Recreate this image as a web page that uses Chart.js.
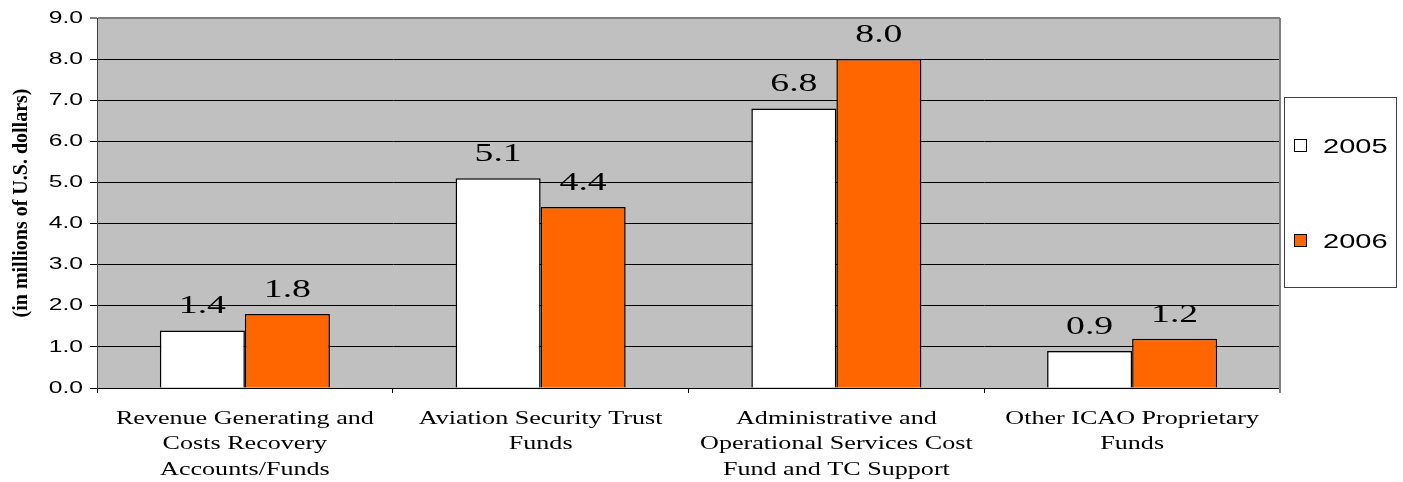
<!DOCTYPE html>
<html>
<head>
<meta charset="utf-8">
<script src="https://cdn.jsdelivr.net/npm/chart.js@4.4.1/dist/chart.umd.min.js"></script>
<style>
  html, body { margin: 0; padding: 0; background: #fff; }
  canvas { display: block; }
</style>
</head>
<body>
<canvas id="funds" width="1403" height="482"></canvas>
<script>
// data
const categories = [
  ['Revenue Generating and', 'Costs Recovery', 'Accounts/Funds'],
  ['Aviation Security Trust', 'Funds'],
  ['Administrative and', 'Operational Services Cost', 'Fund and TC Support'],
  ['Other ICAO Proprietary', 'Funds']
];
const seriesNames = ['2005', '2006'];
const values2005 = [1.4, 5.1, 6.8, 0.9];
const values2006 = [1.8, 4.4, 8.0, 1.2];
const yTicks = [0, 1, 2, 3, 4, 5, 6, 7, 8, 9];

const PLOT_BG = '#c0c0c0';
const BORDER_GRAY = '#808080';
const ORANGE = '#ff6600';

// the source picture is stretched sideways, so stretch horizontal text the same way
const STRETCH = 1.45;
function stretchText(ctx) {
  const fill = ctx.fillText.bind(ctx);
  ctx.fillText = function (text, x, y, maxWidth) {
    const m = ctx.getTransform();
    if (m.b !== 0 || m.c !== 0) {
      // rotated axis title: leave alone
      return maxWidth === undefined ? fill(text, x, y) : fill(text, x, y, maxWidth);
    }
    const p = m.transformPoint(new DOMPoint(x, y));
    ctx.save();
    ctx.setTransform(new DOMMatrix().translate(p.x, p.y).scale(STRETCH, 1).translate(-p.x, -p.y).multiply(m));
    if (maxWidth === undefined) fill(text, x, y); else fill(text, x, y, maxWidth);
    ctx.restore();
  };
}

const plotBackground = {
  id: 'plotBackground',
  beforeDraw(chart) {
    const { ctx, chartArea: a } = chart;
    ctx.save();
    ctx.fillStyle = PLOT_BG;
    ctx.fillRect(a.left, a.top, a.right - a.left, a.bottom - a.top);
    ctx.restore();
  },
  afterDraw(chart) {
    const { ctx, chartArea: a } = chart;
    ctx.save();
    ctx.strokeStyle = BORDER_GRAY;
    ctx.lineWidth = 2;
    ctx.beginPath();
    ctx.moveTo(a.right, a.top);
    ctx.lineTo(a.right, a.bottom + 5);
    ctx.stroke();
    ctx.restore();
  }
};

const valueLabels = {
  id: 'valueLabels',
  afterDatasetsDraw(chart) {
    const ctx = chart.ctx;
    ctx.save();
    ctx.font = '26px "Liberation Serif", "Times New Roman", serif';
    ctx.fillStyle = '#000';
    ctx.textAlign = 'center';
    ctx.textBaseline = 'alphabetic';
    chart.data.datasets.forEach((ds, i) => {
      chart.getDatasetMeta(i).data.forEach((bar, j) => {
        ctx.fillText(ds.data[j].toFixed(1), bar.x, bar.y - 17);
      });
    });
    ctx.restore();
  }
};

const boxLegend = {
  id: 'boxLegend',
  afterDraw(chart) {
    const { ctx, chartArea: a } = chart;
    const left = a.right + 4, top = 97, w = 112, h = 190;
    ctx.save();
    ctx.fillStyle = '#fff';
    ctx.fillRect(left, top, w, h);
    ctx.strokeStyle = '#404040';
    ctx.lineWidth = 1;
    ctx.strokeRect(left + 0.5, top + 0.5, w, h);
    ctx.font = '20px "Liberation Sans", Arial, sans-serif';
    ctx.textAlign = 'left';
    ctx.textBaseline = 'middle';
    chart.data.datasets.forEach((ds, i) => {
      const cy = top + 49 + i * 95;
      ctx.fillStyle = ds.backgroundColor;
      ctx.fillRect(left + 10.5, cy - 6.5, 12, 12);
      ctx.strokeStyle = '#000';
      ctx.strokeRect(left + 10.5, cy - 6.5, 12, 12);
      ctx.fillStyle = '#000';
      ctx.fillText(ds.label, left + 39, cy + 1);
    });
    ctx.restore();
  }
};

const canvas = document.getElementById('funds');
const ctx = canvas.getContext('2d');
stretchText(ctx);

new Chart(ctx, {
  type: 'bar',
  data: {
    labels: categories,
    datasets: [
      { label: seriesNames[0], data: values2005, backgroundColor: '#ffffff' },
      { label: seriesNames[1], data: values2006, backgroundColor: ORANGE }
    ]
  },
  options: {
    responsive: false,
    animation: false,
    layout: { padding: { top: 18, right: 123, left: 0, bottom: 0 } },
    datasets: {
      bar: {
        borderColor: '#000',
        borderWidth: 1.5,
        categoryPercentage: 0.575,
        barPercentage: 1.0
      }
    },
    plugins: {
      legend: { display: false },
      tooltip: { enabled: false }
    },
    scales: {
      x: {
        afterFit(scale) { scale.height = 94; },
        grid: {
          display: true,
          drawOnChartArea: false,
          tickLength: 5,
          color: '#000'
        },
        border: { color: '#000', width: 1 },
        ticks: {
          autoSkip: false,
          maxRotation: 0,
          minRotation: 0,
          padding: 13,
          color: '#000',
          font: { family: '"Liberation Serif", "Times New Roman", serif', size: 18, lineHeight: 1.42 }
        }
      },
      y: {
        min: yTicks[0],
        max: yTicks[yTicks.length - 1],
        afterFit(scale) { scale.width = 97; },
        afterBuildTicks(scale) { scale.ticks = yTicks.map(v => ({ value: v })); },
        grid: {
          tickLength: 7,
          color: c => (c.tick && c.tick.value === 9 ? BORDER_GRAY : '#000'),
          lineWidth: c => (c.tick && c.tick.value === 9 ? 2 : 1)
        },
        border: { color: '#404040', width: 1 },
        ticks: {
          padding: 7,
          color: '#000',
          callback: v => Number(v).toFixed(1),
          font: { family: '"Liberation Sans", Arial, sans-serif', size: 17 }
        },
        title: {
          display: true,
          text: '(in millions of U.S. dollars)',
          color: '#000',
          padding: { top: 10, bottom: 0 },
          font: { family: '"Liberation Serif", "Times New Roman", serif', size: 20, weight: 'bold' }
        }
      }
    }
  },
  plugins: [plotBackground, valueLabels, boxLegend]
});
</script>
</body>
</html>
